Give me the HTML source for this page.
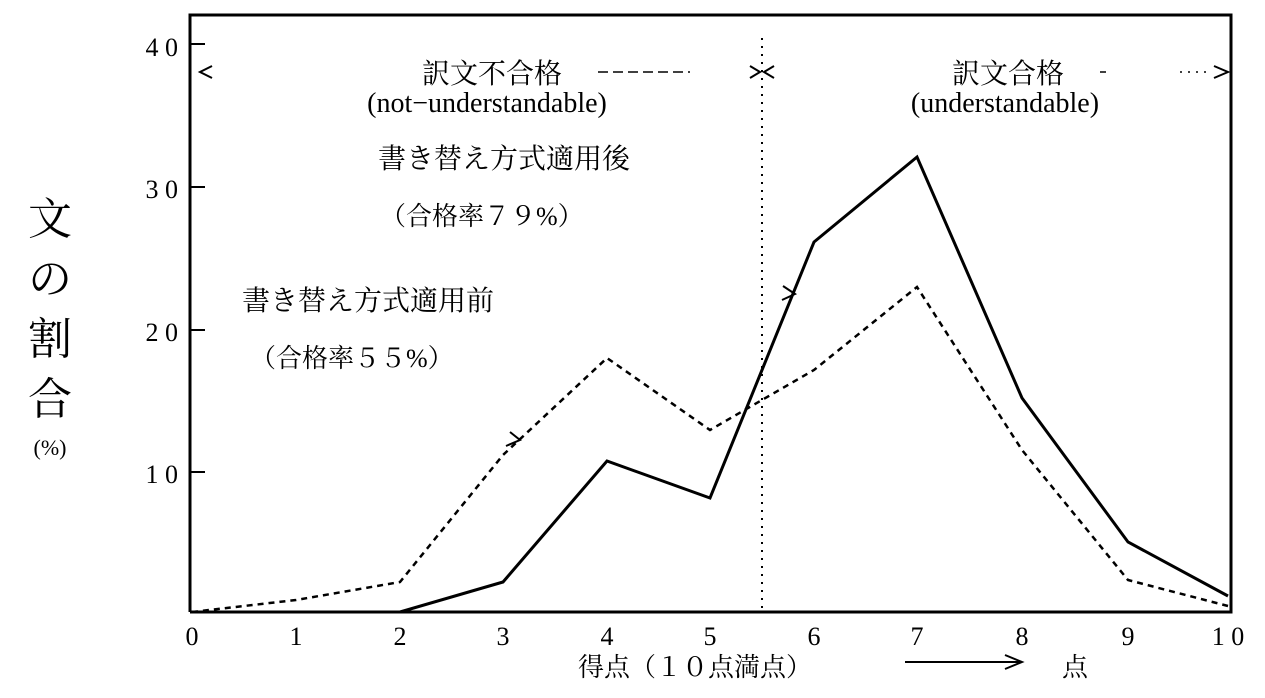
<!DOCTYPE html>
<html><head><meta charset="utf-8"><style>
body{margin:0;background:#fff;width:1265px;height:693px;overflow:hidden}
svg text{font-family:"Liberation Serif","Noto Serif CJK SC",serif;fill:#000}
</style></head><body>
<svg width="1265" height="693" viewBox="0 0 1265 693" xmlns="http://www.w3.org/2000/svg">
<g stroke="#000" fill="none">
<polyline points="190,612 190,15 1231,15 1231,612 190,612" stroke-width="3"/>
<line x1="190" y1="44" x2="205" y2="44" stroke-width="2"/>
<line x1="190" y1="187" x2="205" y2="187" stroke-width="2"/>
<line x1="190" y1="330" x2="205" y2="330" stroke-width="2"/>
<line x1="190" y1="472" x2="205" y2="472" stroke-width="2"/>
<line x1="762" y1="38" x2="762" y2="612" stroke-width="2" stroke-dasharray="2,6"/>
<polyline points="192,612 400,612 503,582 607,461 710,498 814,242 917,157 1022,398 1128,542 1228,596" stroke-width="3"/>
<polyline points="192,612 296,600 400,582 503,455 607,358 710,430 814,370 917,287 1022,450 1128,580 1228,606" stroke-width="2.5" stroke-dasharray="6,5"/>
<polyline points="212,66 200,72 212,78" stroke-width="2"/>
<polyline points="1214,66 1228,72 1214,78" stroke-width="2"/>
<polyline points="750,66 760,72 750,78" stroke-width="2"/>
<polyline points="774,66 764,72 774,78" stroke-width="2"/>
<line x1="598" y1="72" x2="690" y2="72" stroke-width="1.5" stroke-dasharray="10,5"/>
<line x1="1100" y1="72" x2="1106" y2="72" stroke-width="1.5"/>
<line x1="1180" y1="72" x2="1212" y2="72" stroke-width="1.5" stroke-dasharray="2,6"/>
<polyline points="510,432 520,440 506,446" stroke-width="2"/>
<polyline points="783,286 795,294 782,300" stroke-width="2"/>
<line x1="905" y1="662" x2="1020" y2="662" stroke-width="2"/>
<polyline points="1005,655 1022,662 1005,669" stroke-width="2"/>
</g>
<g font-size="26" text-anchor="end">
<text x="178" y="56">4 0</text><text x="178" y="198">3 0</text><text x="178" y="341">2 0</text><text x="178" y="483">1 0</text>
</g>
<g font-size="26" text-anchor="middle">
<text x="192" y="645">0</text><text x="296" y="645">1</text><text x="400" y="645">2</text><text x="503" y="645">3</text><text x="607" y="645">4</text><text x="710" y="645">5</text><text x="814" y="645">6</text><text x="917" y="645">7</text><text x="1022" y="645">8</text><text x="1128" y="645">9</text><text x="1228" y="645">1 0</text>
</g>
<g font-size="44" text-anchor="middle">
<text x="50" y="234">文</text><text x="50" y="294">の</text><text x="50" y="354">割</text><text x="50" y="414">合</text>
</g>
<text x="50" y="455" font-size="22" text-anchor="middle">(%)</text>
<text x="492" y="83" font-size="28" text-anchor="middle">訳文不合格</text>
<text x="487" y="112" font-size="28" text-anchor="middle">(not−understandable)</text>
<text x="1008" y="83" font-size="28" text-anchor="middle">訳文合格</text>
<text x="1005" y="112" font-size="28" text-anchor="middle">(understandable)</text>
<text x="378" y="168" font-size="28">書き替え方式適用後</text>
<text x="380" y="225" font-size="26">（合格率７９%）</text>
<text x="242" y="310" font-size="28">書き替え方式適用前</text>
<text x="250" y="367" font-size="26">（合格率５５%）</text>
<text x="578" y="676" font-size="26">得点（１０点満点）</text>
<text x="1062" y="676" font-size="26">点</text>
</svg>
</body></html>
